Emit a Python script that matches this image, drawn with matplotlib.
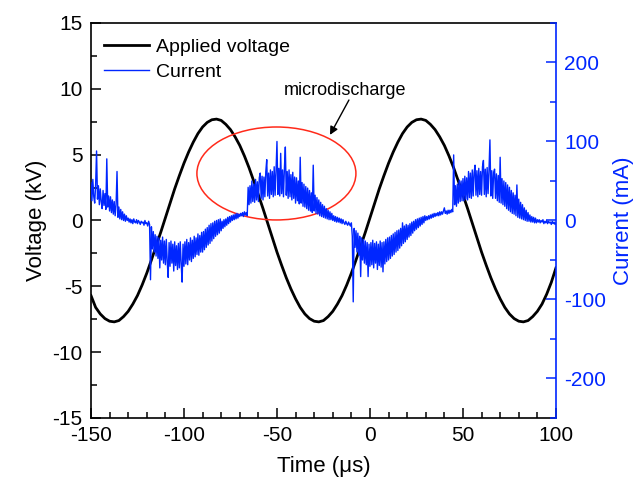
#!/usr/bin/env python3
"""Applied voltage and discharge current versus time."""

import numpy as np
import matplotlib
matplotlib.use('Agg')
import matplotlib.pyplot as plt
from matplotlib.patches import Ellipse

plt.rcParams['font.family'] = ['Liberation Sans', 'DejaVu Sans']
plt.rcParams['axes.unicode_minus'] = False

# Applied voltage (kV), read every 2.5 us starting at -150 us
volt_start, volt_step = -150.0, 2.5
voltage = [
    -5.7, -6.6, -7.1, -7.45, -7.65, -7.7, -7.6, -7.3, -6.9, -6.35,
    -5.7, -4.9, -4.0, -3.0, -1.95, -0.9, 0.2, 1.3, 2.4, 3.4,
    4.35, 5.2, 5.95, 6.6, 7.1, 7.45, 7.65, 7.7, 7.6, 7.3,
    6.9, 6.35, 5.7, 4.9, 4.0, 3.0, 1.95, 0.9, -0.2, -1.3,
    -2.4, -3.4, -4.35, -5.2, -5.95, -6.6, -7.1, -7.45, -7.65, -7.7,
    -7.6, -7.3, -6.9, -6.35, -5.7, -4.9, -4.0, -3.0, -1.95, -0.9,
    0.2, 1.3, 2.4, 3.4, 4.35, 5.2, 5.95, 6.6, 7.1, 7.45,
    7.65, 7.7, 7.6, 7.3, 6.9, 6.35, 5.7, 4.9, 4.0, 3.0,
    1.95, 0.9, -0.2, -1.3, -2.4, -3.4, -4.35, -5.2, -5.95, -6.6,
    -7.1, -7.45, -7.65, -7.7, -7.6, -7.3, -6.9, -6.35, -5.6, -4.7,
    -3.6,
]

# Current (mA), read every 0.5 us starting at -150 us (one row = 10 us)
curr_start, curr_step = -150.0, 0.5
current = [
    48, 25, 52, 30, 22, 45, 88, 27, 44, 20, 40, 24, 15, 38, 19, 34, 14, 78, 17, 31,
    12, 30, 10, 26, 8, 24, 6, 20, 62, 4, 17, 2, 14, 1, 11, 0, 8, -1, 6, 0,
    3, -2, 2, -3, 1, -4, 2, -2, -3, 1, -4, 0, -2, -5, -1, -3, -2, -6, 0, -4,
    -3, -7, -1, -5, -75, -8, -36, -14, -40, -18, -45, -20, -48, -22, -60, -25, -50, -21, -54, -26,
    -56, -24, -52, -72, -28, -58, -26, -54, -30, -64, -27, -57, -32, -62, -29, -60, -27, -55, -78, -30,
    -58, -27, -55, -24, -56, -28, -50, -22, -52, -25, -48, -20, -46, -22, -43, -17, -44, -19, -40, -15,
    -40, -14, -37, -11, -34, -9, -31, -6, -29, -4, -26, -3, -23, -1, -20, 0, -18, 1, -16, 2,
    -13, -1, -10, 1, -8, 2, -6, 4, -4, 5, -2, 6, 0, 7, 1, 8, 2, 9, 3, 8,
    5, 9, 6, 10, 5, 11, 7, 10, 6, 42, 20, 44, 22, 50, 24, 46, 23, 52, 26, 49,
    24, 54, 60, 28, 56, 26, 55, 30, 62, 77, 31, 60, 28, 64, 33, 62, 30, 68, 32, 63,
    100, 33, 66, 31, 85, 34, 64, 30, 66, 93, 32, 62, 28, 64, 30, 58, 26, 61, 28, 55,
    22, 54, 25, 50, 21, 80, 22, 48, 18, 46, 17, 43, 15, 41, 13, 38, 12, 35, 10, 70,
    12, 32, 9, 29, 8, 26, 6, 23, 5, 20, 4, 18, 3, 15, 2, 13, 1, 11, 1, 9,
    0, 6, -1, 5, -2, 4, -2, 3, -3, 2, -4, 1, -3, -5, -1, -4, -6, -2, -5, -7,
    -3, -20, -103, -10, -34, -13, -40, -16, -44, -20, -71, -22, -50, -24, -54, -26, -56, -28, -71, -30,
    -58, -28, -56, -25, -60, -29, -54, -27, -62, -30, -57, -26, -59, -28, -65, -27, -55, -24, -52, -22,
    -50, -21, -48, -19, -45, -17, -43, -15, -40, -13, -38, -12, -35, -10, -32, -3, -29, -7, -27, -5,
    -24, -6, -21, -4, -19, -2, -16, -1, -13, 1, -11, 2, -9, 3, -7, 4, -5, 5, -3, 6,
    0, 5, 1, 6, 2, 7, 3, 8, 4, 9, 5, 9, 6, 10, 6, 11, 7, 11, 8, 12,
    16, 9, 12, 8, 13, 9, 13, 10, 14, 11, 83, 20, 44, 18, 46, 22, 51, 24, 50, 25,
    53, 25, 56, 27, 54, 26, 62, 29, 60, 28, 64, 31, 61, 70, 32, 63, 30, 66, 33, 62,
    32, 68, 76, 33, 65, 30, 67, 34, 64, 102, 31, 63, 28, 61, 65, 28, 59, 25, 57, 23,
    80, 22, 53, 20, 50, 18, 48, 15, 45, 13, 42, 11, 38, 9, 35, 8, 32, 6, 45, 4,
    27, 3, 23, 2, 20, 1, 16, 0, 13, -1, 10, -1, 7, -2, 5, -2, 4, -3, 3, -3,
    1, -2, 1, -3, 0, -2, 1, -4, -1, -3, 0, -4, -1, -3, -2, -5, -1, -4, -2, -5,
    -3,
]

legend_labels = ['Applied voltage', 'Current']
note_text = 'microdischarge'

blue = '#0026ff'

volt_time = volt_start + volt_step * np.arange(len(voltage))
curr_time = curr_start + curr_step * np.arange(len(current))

fig = plt.figure(figsize=(6.38, 4.91), dpi=100)
ax = fig.add_axes([0.1426, 0.1487, 0.7288, 0.8045])
ax2 = ax.twinx()

line_v, = ax.plot(volt_time, voltage, color='black', linewidth=2.0)
line_c, = ax2.plot(curr_time, current, color=blue, linewidth=1.0)

ax.set_xlim(-150, 100)
ax.set_ylim(-15, 15)
ax2.set_ylim(-250, 250)

ax.set_xticks(np.arange(-150, 101, 50))
ax.set_xticks(np.arange(-150, 101, 10), minor=True)
ax.set_yticks(np.arange(-15, 16, 5))
ax.set_yticks(np.arange(-15, 15.1, 2.5), minor=True)
ax2.set_yticks([-200, -100, 0, 100, 200])
ax2.set_yticks(np.arange(-250, 251, 50), minor=True)

ax.tick_params(which='both', direction='in', top=False, right=False,
               labelsize=15, width=1.1, pad=6)
ax.tick_params(which='major', length=7)
ax.tick_params(which='minor', length=4)
ax2.tick_params(which='both', direction='in', colors=blue, labelsize=15,
                width=1.1, pad=6)
ax2.tick_params(which='major', length=7)
ax2.tick_params(which='minor', length=4)

for side in ['left', 'bottom', 'top']:
    ax.spines[side].set_linewidth(1.2)
    ax2.spines[side].set_visible(False)
ax.spines['right'].set_visible(False)
ax2.spines['right'].set_color(blue)
ax2.spines['right'].set_linewidth(1.2)

ax.set_xlabel('Time (\u03bcs)', fontsize=16, labelpad=8)
ax.set_ylabel('Voltage (kV)', fontsize=16, labelpad=4)
ax2.set_ylabel('Current (mA)', fontsize=16, color=blue, rotation=90)
ax2.yaxis.set_label_coords(1.122, 0.5)

# microdischarge region
ax.add_patch(Ellipse((-50.3, 3.57), 85.5, 7.06, fill=False,
                     edgecolor='#ff2a1a', linewidth=1.1, zorder=5))
ax.text(-13.4, 9.85, note_text, fontsize=13, ha='center', va='center')
ax.annotate('', xy=(-21.5, 6.5), xytext=(-11.3, 9.15),
            arrowprops=dict(arrowstyle='-|>', color='black', lw=1.0,
                            shrinkA=0, shrinkB=0, mutation_scale=12),
            zorder=6)

ax2.legend([line_v, line_c], legend_labels, loc='upper left',
           bbox_to_anchor=(0.012, 0.98), frameon=False, fontsize=14,
           handlelength=2.3, handletextpad=0.35, labelspacing=0.36,
           borderaxespad=0)

fig.savefig('out.png', dpi=100)
